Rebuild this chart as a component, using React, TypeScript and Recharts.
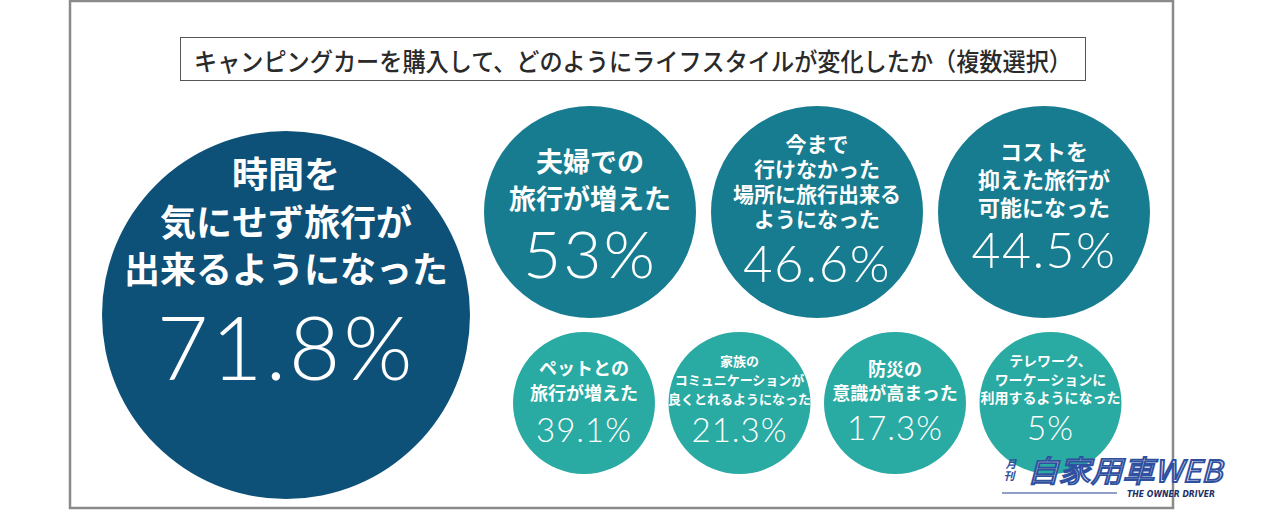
import { ScatterChart, Scatter, XAxis, YAxis } from 'recharts'

// 回答項目（複数選択）
const labels: string[][] = [
  ['時間を', '気にせず旅行が', '出来るようになった'],
  ['夫婦での', '旅行が増えた'],
  ['今まで', '行けなかった', '場所に旅行出来る', 'ようになった'],
  ['コストを', '抑えた旅行が', '可能になった'],
  ['ペットとの', '旅行が増えた'],
  ['家族の', 'コミュニケーションが', '良くとれるようになった'],
  ['防災の', '意識が高まった'],
  ['テレワーク、', 'ワーケーションに', '利用するようになった'],
]

const values = [71.8, 53, 46.6, 44.5, 39.1, 21.3, 17.3, 5]

const title = 'キャンピングカーを購入して、どのようにライフスタイルが変化したか（複数選択）'

const W = 1280
const H = 512

// tier: 0 = main bubble, 1 = top row, 2 = bottom row
const tierColor = ['#0d5078', '#177c8f', '#29aaa2']
const tierRadius = [184, 106, 71]

// text style per bubble: label size, line gap, first line offset, pct size, pct baseline offset
const textStyle = [
  { fs: 36, gap: 47.5, first: -143, ps: 89, pdy: 65 },
  { fs: 27, gap: 37, first: -52, ps: 66, pdy: 66 },
  { fs: 21, gap: 25, first: -69, ps: 51, pdy: 70 },
  { fs: 22, gap: 28, first: -62, ps: 50, pdy: 56 },
  { fs: 18, gap: 25, first: -36, ps: 33, pdy: 39 },
  { fs: 13, gap: 19, first: -43, ps: 33, pdy: 39 },
  { fs: 18, gap: 24, first: -35, ps: 33, pdy: 37 },
  { fs: 14, gap: 18.5, first: -43, ps: 33, pdy: 37 },
]

function slot(i: number) {
  if (i === 0) return { tier: 0, x: 286, y: 315 }
  if (i <= 3) return { tier: 1, x: 590 + (i - 1) * 227, y: 212 }
  return { tier: 2, x: 584 + (i - 4) * 155.5, y: 403 }
}

const rows = values.map((v, i) => {
  const s = slot(i)
  return { x: s.x, y: s.y, tier: s.tier, value: v, lines: labels[i], idx: i }
})

const jp = '"Noto Sans CJK JP", "Noto Sans", sans-serif'

function Bubble(props: any) {
  const { cx, cy, payload } = props
  const st = textStyle[payload.idx]
  return (
    <g>
      <circle cx={cx} cy={cy} r={tierRadius[payload.tier]} fill={tierColor[payload.tier]} />
      <text
        x={cx}
        y={cy + st.first}
        textAnchor="middle"
        dominantBaseline="central"
        fill="#fff"
        fontFamily={jp}
        fontWeight={700}
        fontSize={st.fs}
      >
        {payload.lines.map((l: string, k: number) => (
          <tspan key={k} x={cx} dy={k === 0 ? 0 : st.gap}>
            {l}
          </tspan>
        ))}
      </text>
      <text
        x={cx}
        y={cy + st.pdy}
        textAnchor="middle"
        fill="#fff"
        fontFamily="Lato, sans-serif"
        fontWeight={300}
        fontSize={st.ps}
        letterSpacing={st.ps * 0.03}
      >
        {`${payload.value}%`}
      </text>
    </g>
  )
}

export default function App() {
  return (
    <div style={{ position: 'absolute', left: 0, top: 0, width: W, height: H, background: '#fff' }}>
      <svg width={W} height={H} style={{ position: 'absolute', left: 0, top: 0 }}>
        <rect x={70} y={1} width={1103} height={507} fill="#fff" stroke="#8a8a8a" strokeWidth={2.5} />
        <rect x={180.5} y={37.5} width={905} height={43} fill="#fff" stroke="#555" strokeWidth={1} />
        <text
          x={633}
          y={60}
          textAnchor="middle"
          dominantBaseline="central"
          fontFamily={jp}
          fontWeight={500}
          fontSize={25}
          fill="#2a2a2a"
          textLength={878}
          lengthAdjust="spacingAndGlyphs"
        >
          {title}
        </text>
      </svg>
      <div style={{ position: 'absolute', left: 0, top: 0 }}>
        <ScatterChart width={W} height={H} margin={{ top: 0, right: 0, bottom: 0, left: 0 }}>
          <XAxis type="number" dataKey="x" domain={[0, W]} hide />
          <YAxis type="number" dataKey="y" domain={[0, H]} reversed hide />
          <Scatter data={rows} shape={Bubble} isAnimationActive={false} />
        </ScatterChart>
      </div>
      <svg width={W} height={H} style={{ position: 'absolute', left: 0, top: 0 }}>
        <g fontFamily={jp} fontStyle="italic">
          <text x={1011} y={468} textAnchor="middle" fontSize={11} fontWeight={700} fill="#2f4f9f">
            <tspan x={1011}>月</tspan>
            <tspan x={1009} dy={12}>刊</tspan>
          </text>
          <text
            x={1027}
            y={482}
            fontSize={30}
            fontWeight={400}
            fill="#ffffff"
            stroke="#2f4f9f"
            strokeWidth={1.8}
            textLength={195}
            lengthAdjust="spacingAndGlyphs"
          >
            自家用車WEB
          </text>
        </g>
        <line x1={1002} y1={493} x2={1117} y2={493} stroke="#6a7fb4" strokeWidth={1.5} />
        <text
          x={1127}
          y={497}
          fontFamily="'DejaVu Sans', sans-serif"
          fontStyle="italic"
          fontWeight={700}
          fontSize={9}
          fill="#1e2f66"
          textLength={88}
          lengthAdjust="spacingAndGlyphs"
        >
          THE OWNER DRIVER
        </text>
      </svg>
    </div>
  )
}
